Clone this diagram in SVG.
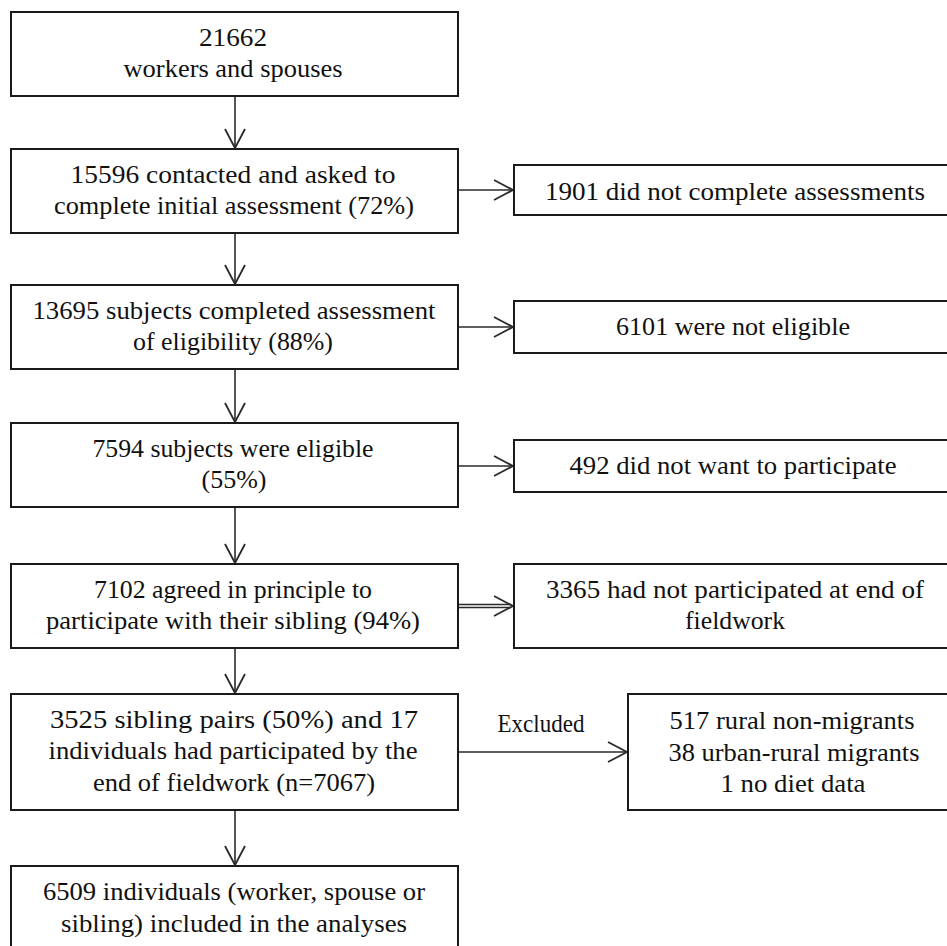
<svg xmlns="http://www.w3.org/2000/svg" width="947" height="946" viewBox="0 0 947 946">
<style>
  .box { fill: #ffffff; stroke: #1a1a1a; stroke-width: 2; }
  .t { font-family: "Liberation Serif", "Times New Roman", serif; font-size: 26px; fill: #111111; text-anchor: middle; }
  .c { stroke: #2a2a2a; stroke-width: 1.6; fill: none; }
</style>
<defs>
  <marker id="ah" markerUnits="userSpaceOnUse" markerWidth="24" markerHeight="24" viewBox="-21 -12 23 24" refX="0" refY="0" orient="auto">
    <path d="M-19,-10 L0,0 L-19,10" fill="none" stroke="#2a2a2a" stroke-width="1.8"/>
  </marker>
</defs>
<rect width="947" height="946" fill="#ffffff"/>
<g id="connectors">
  <line class="c" x1="235" y1="96" x2="235" y2="148" marker-end="url(#ah)"/>
  <line class="c" x1="235" y1="233" x2="235" y2="284" marker-end="url(#ah)"/>
  <line class="c" x1="235" y1="369" x2="235" y2="422" marker-end="url(#ah)"/>
  <line class="c" x1="235" y1="507" x2="235" y2="563" marker-end="url(#ah)"/>
  <line class="c" x1="235" y1="648" x2="235" y2="693" marker-end="url(#ah)"/>
  <line class="c" x1="235" y1="810" x2="235" y2="865" marker-end="url(#ah)"/>
  <line class="c" x1="458" y1="190" x2="513" y2="190" marker-end="url(#ah)"/>
  <line class="c" x1="458" y1="327" x2="513" y2="327" marker-end="url(#ah)"/>
  <line class="c" x1="458" y1="466" x2="513" y2="466" marker-end="url(#ah)"/>
  <line class="c" x1="458" y1="604.5" x2="511" y2="604.5" stroke-width="1.3"/>
  <line class="c" x1="458" y1="607.5" x2="511" y2="607.5" stroke-width="1.3"/>
  <line x1="511" y1="606" x2="513" y2="606" stroke="none" marker-end="url(#ah)"/>
  <line class="c" x1="458" y1="752" x2="627" y2="752" marker-end="url(#ah)"/>
  <text class="t" x="541" y="732" textLength="87" lengthAdjust="spacingAndGlyphs">Excluded</text>
</g>
<g id="n1">
  <rect class="box" x="11" y="12" width="447" height="84"/>
  <text class="t" x="233" y="46" textLength="68" lengthAdjust="spacingAndGlyphs">21662</text>
  <text class="t" x="233" y="77" textLength="219" lengthAdjust="spacingAndGlyphs">workers and spouses</text>
</g>
<g id="n2">
  <rect class="box" x="11" y="149" width="447" height="84"/>
  <text class="t" x="233" y="183" textLength="325" lengthAdjust="spacingAndGlyphs">15596 contacted and asked to</text>
  <text class="t" x="234" y="214" textLength="360" lengthAdjust="spacingAndGlyphs">complete initial  assessment (72%)</text>
</g>
<g id="n3">
  <rect class="box" x="11" y="285" width="447" height="84"/>
  <text class="t" x="234" y="319" textLength="403" lengthAdjust="spacingAndGlyphs">13695 subjects completed assessment</text>
  <text class="t" x="233" y="350" textLength="200" lengthAdjust="spacingAndGlyphs">of eligibility  (88%)</text>
</g>
<g id="n4">
  <rect class="box" x="11" y="423" width="447" height="84"/>
  <text class="t" x="233" y="457" textLength="281" lengthAdjust="spacingAndGlyphs">7594 subjects were  eligible</text>
  <text class="t" x="234" y="488" textLength="65" lengthAdjust="spacingAndGlyphs">(55%)</text>
</g>
<g id="n5">
  <rect class="box" x="11" y="564" width="447" height="84"/>
  <text class="t" x="233" y="598" textLength="278" lengthAdjust="spacingAndGlyphs">7102 agreed in principle  to</text>
  <text class="t" x="233" y="629" textLength="374" lengthAdjust="spacingAndGlyphs">participate with their sibling (94%)</text>
</g>
<g id="n6">
  <rect class="box" x="11" y="694" width="447" height="116"/>
  <text class="t" x="234" y="728" textLength="368" lengthAdjust="spacingAndGlyphs">3525 sibling pairs (50%) and 17</text>
  <text class="t" x="233" y="759" textLength="369" lengthAdjust="spacingAndGlyphs">individuals had participated by the</text>
  <text class="t" x="234" y="791" textLength="282" lengthAdjust="spacingAndGlyphs">end of fieldwork  (n=7067)</text>
</g>
<g id="n7">
  <rect class="box" x="11" y="866" width="447" height="90"/>
  <text class="t" x="234" y="900" textLength="382" lengthAdjust="spacingAndGlyphs">6509 individuals (worker,  spouse or</text>
  <text class="t" x="234" y="932" textLength="346" lengthAdjust="spacingAndGlyphs">sibling)  included in the analyses</text>
</g>
<g id="r1">
  <rect class="box" x="514" y="165" width="445" height="50"/>
  <text class="t" x="735" y="200" textLength="380" lengthAdjust="spacingAndGlyphs">1901 did not complete  assessments</text>
</g>
<g id="r2">
  <rect class="box" x="514" y="301" width="445" height="52"/>
  <text class="t" x="733" y="335" textLength="234" lengthAdjust="spacingAndGlyphs">6101 were not eligible</text>
</g>
<g id="r3">
  <rect class="box" x="514" y="440" width="445" height="52"/>
  <text class="t" x="733" y="474" textLength="327" lengthAdjust="spacingAndGlyphs">492 did not want to participate</text>
</g>
<g id="r4">
  <rect class="box" x="514" y="564" width="445" height="84"/>
  <text class="t" x="735" y="598" textLength="378" lengthAdjust="spacingAndGlyphs">3365 had not participated at end of</text>
  <text class="t" x="735" y="629" textLength="100" lengthAdjust="spacingAndGlyphs">fieldwork</text>
</g>
<g id="r5">
  <rect class="box" x="628" y="694" width="331" height="116"/>
  <text class="t" x="792" y="729" textLength="245" lengthAdjust="spacingAndGlyphs">517 rural non-migrants</text>
  <text class="t" x="794" y="761" textLength="251" lengthAdjust="spacingAndGlyphs">38 urban-rural migrants</text>
  <text class="t" x="793" y="792" textLength="145" lengthAdjust="spacingAndGlyphs">1 no diet data</text>
</g>
</svg>
